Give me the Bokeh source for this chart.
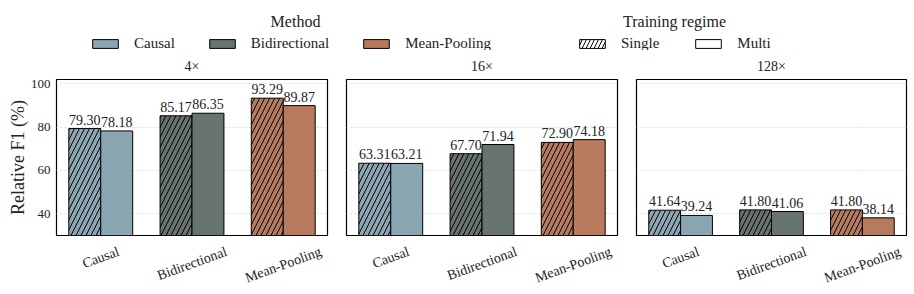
import math
from bokeh.plotting import figure
from bokeh.models import (Range1d, FixedTicker, ColumnDataSource, Legend, LegendItem, Label)
from bokeh.layouts import column, row
from bokeh.embed import file_html
from bokeh.resources import INLINE
from bokeh.core.properties import value

# ---- data ----
methods = ["Causal", "Bidirectional", "Mean-Pooling"]
ratios = ["4×", "16×", "128×"]
single_4x = [79.30, 85.17, 93.29]
multi_4x = [78.18, 86.35, 89.87]
single_16x = [63.31, 67.70, 72.90]
multi_16x = [63.21, 71.94, 74.18]
single_128x = [41.64, 41.80, 41.80]
multi_128x = [39.24, 41.06, 38.14]
y_ticks = [40, 60, 80, 100]

colors = ["#8BA6B3", "#66736F", "#B87A5C"]
FONT = "Liberation Serif"
TXT = "#222222"
BAR_W = 0.35
ANGLE = math.radians(20)
XLAB_SIZE = 14

# approximate Times advance widths (em) for rotated-label placement
_W = {"C": .667, "a": .444, "u": .5, "s": .389, "l": .278, "B": .667, "i": .278,
      "d": .5, "r": .333, "e": .444, "c": .444, "t": .278, "o": .5, "n": .5,
      "M": .889, "-": .333, "P": .556, "g": .5}


def text_w(s, size):
    return sum(_W.get(ch, .5) for ch in s) * size


panels = [(ratios[0], single_4x, multi_4x),
          (ratios[1], single_16x, multi_16x),
          (ratios[2], single_128x, multi_128x)]

TOTAL_W = 914
borders = [(56, 10, 271), (9, 10, 271), (9, 8, 270)]
FRAME_H = 156
STRIP_H = 59
y_range = Range1d(30, 101.9)
cols = []
for k, (title, single, multi) in enumerate(panels):
    bl, br, fw = borders[k]
    xr = Range1d(-0.485, 2.485)
    p = figure(frame_width=fw, frame_height=FRAME_H, min_border_left=bl, min_border_right=br,
               min_border_top=19, min_border_bottom=2,
               x_range=xr, y_range=y_range,
               output_backend="svg", toolbar_location=None, title=title)
    p.title.align = "center"
    p.title.text_font = FONT
    p.title.text_font_size = "14px"
    p.title.text_font_style = "normal"
    p.title.text_color = TXT
    p.title.standoff = 12
    idx = list(range(len(methods)))
    xs_s = [i - BAR_W / 2 for i in idx]
    xs_m = [i + BAR_W / 2 for i in idx]
    src_s = ColumnDataSource(dict(x=xs_s, top=single, color=colors,
                                  lab=[f"{v:.2f}" for v in single]))
    src_m = ColumnDataSource(dict(x=xs_m, top=multi, color=colors,
                                  lab=[f"{v:.2f}" for v in multi]))
    p.vbar(x="x", top="top", bottom=0, width=BAR_W, source=src_s, fill_color="color",
           line_color="black", line_width=1, hatch_pattern="/", hatch_color="black",
           hatch_weight=1, hatch_scale=10)
    p.vbar(x="x", top="top", bottom=0, width=BAR_W, source=src_m, fill_color="color",
           line_color="black", line_width=1)
    for src in (src_s, src_m):
        p.text(x="x", y="top", text="lab", source=src, text_align="center",
               text_baseline="bottom", y_offset=-4, text_font=value(FONT),
               text_font_size="14px", text_color=TXT)
    p.xaxis.visible = False
    p.yaxis.ticker = FixedTicker(ticks=y_ticks)
    p.yaxis.major_label_text_font = FONT
    p.yaxis.major_label_text_font_size = "13px"
    p.yaxis.major_label_text_color = TXT
    p.yaxis.major_label_standoff = 6
    p.yaxis.axis_line_color = None
    p.yaxis.major_tick_line_color = None
    p.yaxis.minor_tick_line_color = None
    p.yaxis.major_tick_out = 0
    p.yaxis.major_tick_in = 0
    if k == 0:
        p.yaxis.axis_label = "Relative F1 (%)"
        p.yaxis.axis_label_text_font = FONT
        p.yaxis.axis_label_text_font_size = "18px"
        p.yaxis.axis_label_text_font_style = "normal"
        p.yaxis.axis_label_text_color = TXT
        p.yaxis.axis_label_standoff = 0
    else:
        p.yaxis.visible = False
    p.xgrid.grid_line_color = None
    p.ygrid.grid_line_color = "#dddddd"
    p.ygrid.grid_line_dash = "2 2"
    p.ygrid.grid_line_width = 1
    p.outline_line_color = "black"
    p.outline_line_width = 1.2
    p.outline_line_alpha = 1

    # strip below the frame carrying the rotated category labels (matplotlib-like)
    s = figure(frame_width=fw, frame_height=STRIP_H, min_border_left=bl, min_border_right=br,
               min_border_top=0, min_border_bottom=0, x_range=xr,
               y_range=Range1d(STRIP_H, 0), output_backend="svg", toolbar_location=None)
    s.axis.visible = False
    s.grid.visible = False
    s.outline_line_color = None
    offs = [16.5 + text_w(m, XLAB_SIZE) * math.sin(ANGLE) / 2 - 3 for m in methods]
    s.text(x=idx, y=offs, text=methods, angle=ANGLE, text_align="center",
           text_baseline="middle", text_font=value(FONT), text_font_size=f"{XLAB_SIZE}px",
           text_color=TXT)
    cols.append(column(p, s))

# ---- legend figure ----
LW, LH = TOTAL_W, 50
lf = figure(width=LW, height=LH, x_range=Range1d(0, LW), y_range=Range1d(0, LH),
            output_backend="svg", toolbar_location=None, min_border=0)
lf.axis.visible = False
lf.grid.visible = False
lf.outline_line_color = None
off_range = dict(x=[-1000], top=[-1000])
m_items = []
for m, c in zip(methods, colors):
    r = lf.vbar(x="x", top="top", bottom=-1001, width=1, source=ColumnDataSource(off_range),
                fill_color=c, line_color="black", line_width=1)
    m_items.append(LegendItem(label=m, renderers=[r]))
r_single = lf.vbar(x="x", top="top", bottom=-1001, width=1, source=ColumnDataSource(off_range),
                   fill_color="white", line_color="black", line_width=1, hatch_pattern="/",
                   hatch_color="black", hatch_weight=1, hatch_scale=8)
r_multi = lf.vbar(x="x", top="top", bottom=-1001, width=1, source=ColumnDataSource(off_range),
                  fill_color="white", line_color="black", line_width=1)
t_items = [LegendItem(label="Single", renderers=[r_single]),
           LegendItem(label="Multi", renderers=[r_multi])]


def mk_legend(items, loc, spacing):
    return Legend(items=items, location=loc, orientation="horizontal",
                  glyph_width=32, glyph_height=11, label_standoff=13, spacing=spacing,
                  padding=0, margin=0, border_line_color=None, background_fill_alpha=0,
                  label_text_font=FONT, label_text_font_size="15px", label_text_color=TXT,
                  label_height=11)


lf.add_layout(mk_legend(m_items, (89, -2), 31), "center")
lf.add_layout(mk_legend(t_items, (576, -2), 33), "center")
lf.add_layout(Label(x=295, y=29.5, text="Method", text_align="center",
                    text_baseline="middle", text_font=FONT, text_font_size="16px",
                    text_color=TXT))
lf.add_layout(Label(x=674, y=29.5, text="Training regime", text_align="center",
                    text_baseline="middle", text_font=FONT, text_font_size="16px",
                    text_color=TXT))

layout = column(lf, row(*cols))
open("out.html", "w").write(file_html(layout, INLINE))
